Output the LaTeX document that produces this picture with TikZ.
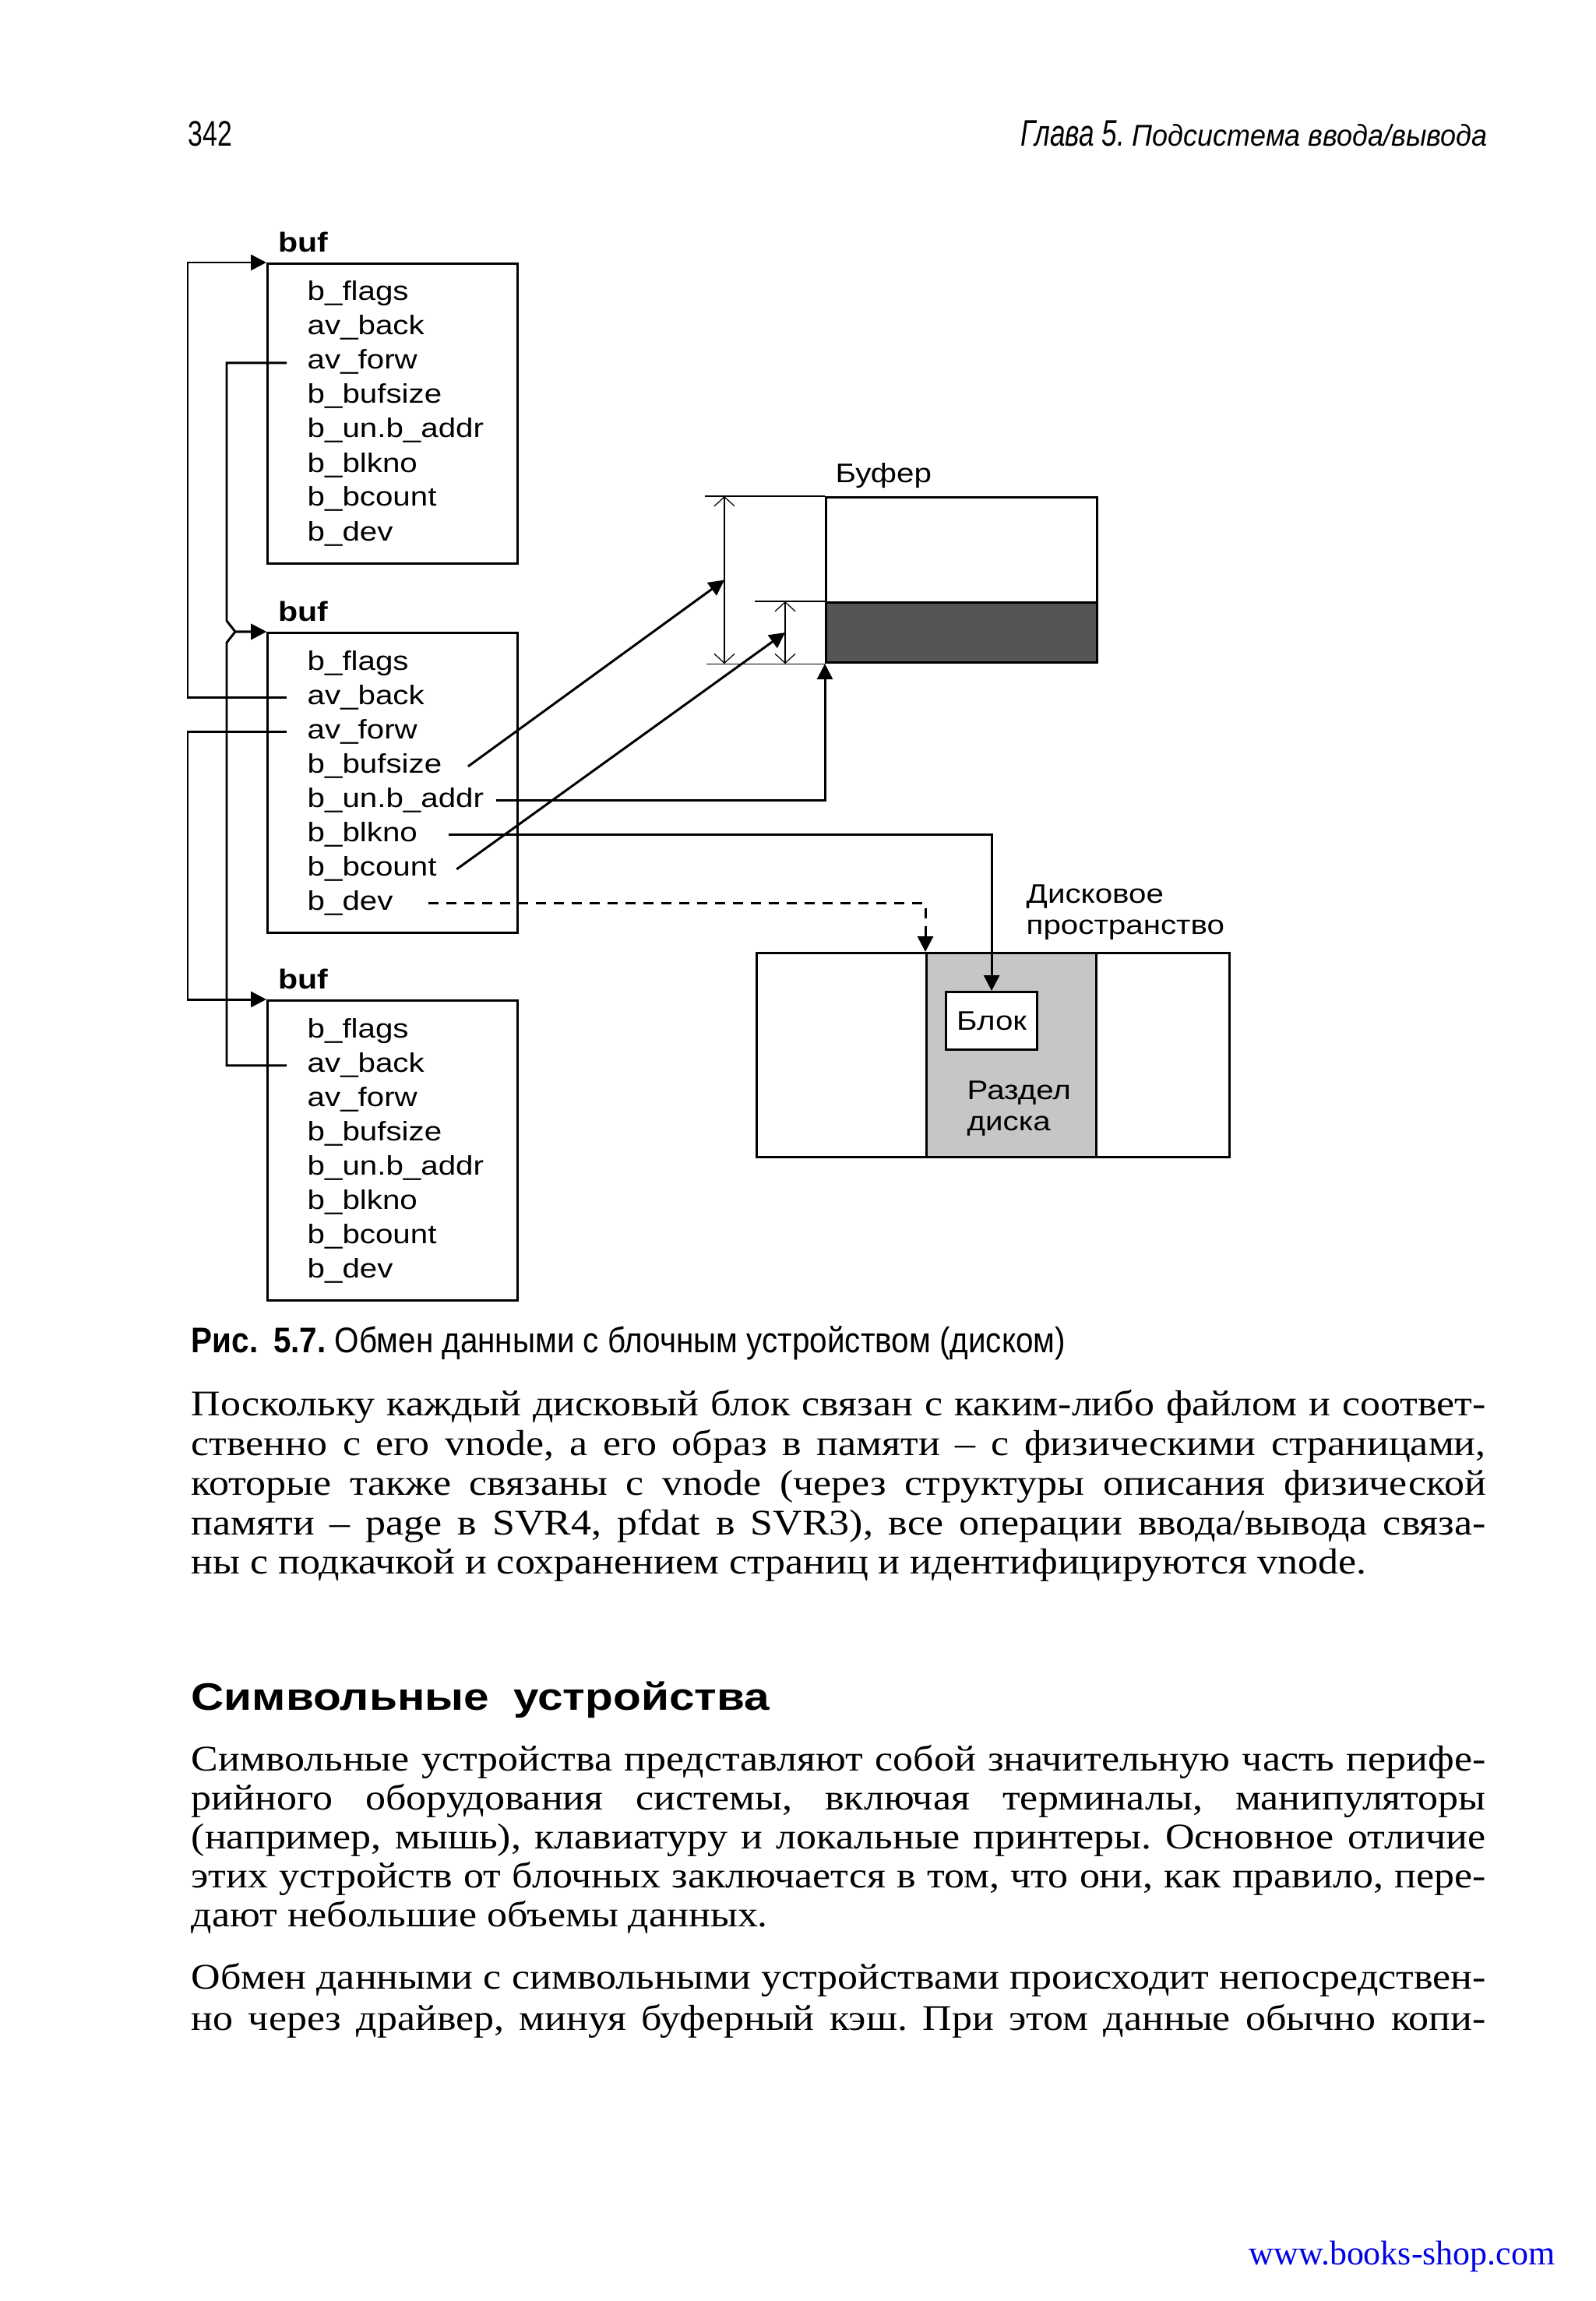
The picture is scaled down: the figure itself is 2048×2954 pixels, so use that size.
\documentclass[tikz,border=0pt]{standalone}
\usepackage{fontspec}
\setmainfont{Liberation Serif}
\newfontfamily\bodyfont{Liberation Serif}[FakeStretch=1.12]
\newfontfamily\diagfont{Liberation Sans}[FakeStretch=1.17]
\newfontfamily\runfont{Liberation Sans}[FakeStretch=0.74]
\newfontfamily\subfont{Liberation Sans}[FakeStretch=0.93]
\newfontfamily\capfont{Liberation Sans}[FakeStretch=0.885]
\newfontfamily\headfont{Liberation Sans}[FakeStretch=1.19]
\usetikzlibrary{arrows.meta,positioning,calc}
\definecolor{ShopBlue}{HTML}{0000E6}
\definecolor{BufDark}{HTML}{555555}
\definecolor{DiskGrey}{HTML}{C6C6C6}
\newcommand\fullline[1]{\makebox[166.2mm][s]{#1}}
\frenchspacing

\begin{document}
\begin{tikzpicture}[x=0.1mm,y=-0.1mm,
    every node/.style={inner sep=0pt},
    diag/.style={font=\diagfont\fontsize{9.8}{11.4}\selectfont},
    field/.style={diag,anchor=base west},
    bufbox/.style={draw,line width=0.9pt,minimum width=32.1mm,minimum height=38.5mm,anchor=north west},
    buftitle/.style={anchor=base west,font=\diagfont\bfseries\fontsize{10}{11}\selectfont},
    frame/.style={draw,line width=0.9pt,anchor=north west},
    link/.style={line width=0.85pt,-{Triangle[length=2mm,width=2mm]}},
    dimline/.style={line width=0.35pt},
    dimtips/.style={arrows={Straight Barb[length=1.2mm,width=2.6mm]-Straight Barb[length=1.2mm,width=2.6mm]}},
    bodyline/.style={anchor=base west,font=\bodyfont\fontsize{13.2}{15}\selectfont\frenchspacing}]
  \fill[white] (0,0) rectangle (2048,2954);
  \useasboundingbox (0,0) rectangle (2048,2954);

  % running head
  \node[anchor=base west,font=\runfont\fontsize{13}{14}\selectfont] (pgno) at (241,188) {342};
  \node[anchor=base east,font=\runfont\itshape\fontsize{13.5}{14}\selectfont] (chap) at (1910,188)
    {Глава 5. {\subfont\itshape\fontsize{11}{12}\selectfont Подсистема ввода/вывода}};

  % buf headers
  \foreach \b/\t in {b1/337,b2/811,b3/1283}{
    \node[bufbox] (\b) at (342,\t) {};
    \node[buftitle] (\b-title) at ([xshift=1.5mm,yshift=1.35mm]\b.north west) {buf};
    \foreach \f [count=\i from 0] in {b\_flags,av\_back,av\_forw,b\_bufsize,b\_un.b\_addr,b\_blkno,b\_bcount,b\_dev}
      \node[field] (\b-\i) at (394,\t+49+44*\i) {\f};
  }

  % free list links
  \draw[link] ([xshift=-2.6mm]b2-1.mid west) -| ([xshift=-10.1mm]b1.north west) -- (b1.north west);
  \draw[link] ([xshift=-2.6mm]b1-2.mid west) -| ([xshift=-5.1mm,yshift=1.4mm]b2.north west)
    -- ([xshift=-4mm]b2.north west) -- (b2.north west);
  \draw[link] ([xshift=-2.6mm]b3-1.mid west) -| ([xshift=-5.1mm,yshift=-1.4mm]b2.north west)
    -- ([xshift=-4mm]b2.north west) -- (b2.north west);
  \draw[link] ([xshift=-2.6mm]b2-2.mid west) -| ([xshift=-10.1mm]b3.north west) -- (b3.north west);

  % buffer in memory
  \node[frame,minimum width=34.8mm,minimum height=21.2mm] (buffer) at (1059,637) {};
  \node[frame,fill=BufDark,minimum width=34.8mm,minimum height=7.7mm,anchor=south west]
    (bdata) at (buffer.south west) {};
  \node[diag,anchor=base west] (buflbl) at ([xshift=1.3mm,yshift=1.7mm]buffer.north west) {Буфер};
  \draw[dimline] ([xshift=-15.4mm]buffer.north west) -- (buffer.north west);
  \draw[dimline] ([xshift=-15.2mm]buffer.south west) -- (buffer.south west);
  \draw[dimline] ([xshift=-9mm]bdata.north west) -- (bdata.north west);
  \draw[dimline,dimtips] ([xshift=-12.9mm]buffer.north west) -- ([xshift=-12.9mm]buffer.south west);
  \draw[dimline,dimtips] ([xshift=-5.1mm]bdata.north west) -- ([xshift=-5.1mm]bdata.south west);

  % disk
  \node[frame,minimum width=60.7mm,minimum height=26.2mm] (disk) at (970,1222) {};
  \node[frame,fill=DiskGrey,minimum width=21.8mm,minimum height=26.2mm] (part) at (1188,1222) {};
  \node[frame,diag,fill=white,minimum width=11.7mm,minimum height=7.4mm] (blk) at (1213,1272) {Блок};
  \node[diag,anchor=north west,align=left] (partlbl) at (1241,1387) {Раздел\\диска};
  \node[diag,anchor=north west,align=left] (disklbl) at (1317,1135) {Дисковое\\пространство};

  % fields to buffer and disk
  \draw[link] ([xshift=3.3mm]b2-3.mid east) -- ([xshift=-12.9mm]buffer.west);
  \draw[link] ([xshift=2.5mm]b2-6.mid east) -- ([xshift=-5.1mm]bdata.west);
  \draw[link] ([xshift=1.5mm]b2-4.mid east) -| (buffer.south west);
  \draw[link] ([xshift=3.9mm]b2-5.mid east) -| (blk.north);
  \draw[link,dash pattern=on 1.3mm off 1mm] ([xshift=4.5mm]b2-7.mid east) -| (part.north west);

  % caption and text
  \node[anchor=base west,font=\capfont\fontsize{13}{15}\selectfont] (caption) at (245,1736)
    {\textbf{Рис.\hspace{2mm}5.7.} Обмен данными с блочным устройством (диском)};
  \node[bodyline] (p1-1) at (245,1817) {\fullline{Поскольку каждый дисковый блок связан с каким-либо файлом и соответ-}};
  \node[bodyline] (p1-2) at (245,1868) {\fullline{ственно с его vnode, а его образ в памяти – с физическими страницами,}};
  \node[bodyline] (p1-3) at (245,1919) {\fullline{которые также связаны с vnode (через структуры описания физической}};
  \node[bodyline] (p1-4) at (245,1970) {\fullline{памяти – page в SVR4, pfdat в SVR3), все операции ввода/вывода связа-}};
  \node[bodyline] (p1-5) at (245,2020) {ны с подкачкой и сохранением страниц и идентифицируются vnode.};
  \node[anchor=base west,font=\headfont\bfseries\fontsize{14}{16}\selectfont] (sect) at (245,2195)
    {Символьные\hspace{1.5mm} устройства};
  \node[bodyline] (p2-1) at (245,2273) {\fullline{Символьные устройства представляют собой значительную часть перифе-}};
  \node[bodyline] (p2-2) at (245,2323) {\fullline{рийного оборудования системы, включая терминалы, манипуляторы}};
  \node[bodyline] (p2-3) at (245,2373) {\fullline{(например, мышь), клавиатуру и локальные принтеры. Основное отличие}};
  \node[bodyline] (p2-4) at (245,2423) {\fullline{этих устройств от блочных заключается в том, что они, как правило, пере-}};
  \node[bodyline] (p2-5) at (245,2473) {дают небольшие объемы данных.};
  \node[bodyline] (p3-1) at (245,2553) {\fullline{Обмен данными с символьными устройствами происходит непосредствен-}};
  \node[bodyline] (p3-2) at (245,2606) {\fullline{но через драйвер, минуя буферный кэш. При этом данные обычно копи-}};

  % footer
  \node[anchor=base west,text=ShopBlue,font=\fontsize{12.5}{14}\selectfont] (shop) at (1603,2907) {www.books-shop.com};
\end{tikzpicture}
\end{document}
